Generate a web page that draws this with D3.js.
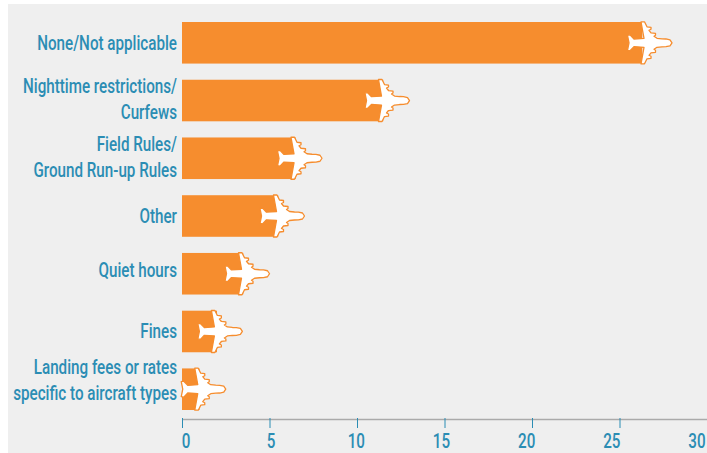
<!DOCTYPE html>
<html>
<head>
<meta charset="utf-8">
<script src="https://cdnjs.cloudflare.com/ajax/libs/d3/7.8.5/d3.min.js"></script>
<style>
  html, body { margin: 0; padding: 0; background: #fff; }
  svg { display: block; }
  text { font-family: Roboto, sans-serif; font-weight: 500; fill: #2b8db4; }
</style>
</head>
<body>
<svg width="707" height="453"></svg>
<script>
  // label lines per category, top to bottom
  const categories = [
    ['None/Not applicable'],
    ['Nighttime restrictions/', 'Curfews'],
    ['Field Rules/', 'Ground Run-up Rules'],
    ['Other'],
    ['Quiet hours'],
    ['Fines'],
    ['Landing fees or rates', 'specific to aircraft types']
  ];
  const values = [26.3, 11.5, 6.5, 5.5, 3.5, 2, 1];
  // where the plane's nose ends up, it sits past the end of the bar
  const noses = [28, 13, 8, 7, 5, 3.45, 2.5];
  const xTicks = [0, 5, 10, 15, 20, 25, 30];
  // labels in the original are not quite centred on their bars
  const labelShift = [0, -2, -1, 0, -4, 0, -9];

  const svg = d3.select('svg');

  svg.append('rect')
    .attr('x', 8).attr('y', 4)
    .attr('width', 699).attr('height', 449)
    .attr('fill', '#efefef');

  const xScale = d3.scaleLinear().domain([0, 30]).range([182, 707]);
  // tick labels in the original drift a bit off the tick marks
  const tickLabelScale = d3.scaleLinear().domain([0, 30]).range([186, 697]);
  const yScale = d3.scaleBand()
    .domain(d3.range(categories.length))
    .range([22, 410])
    .paddingInner(0.28);

  const barH = yScale.bandwidth();
  const squeeze = 0.76; // no condensed font installed, so narrow Roboto by hand

  // axis
  const xAxis = d3.axisBottom(xScale)
    .tickValues(xTicks)
    .tickSize(0)
    .tickFormat('');
  const axisG = svg.append('g')
    .attr('transform', 'translate(0,419)')
    .call(xAxis);
  axisG.select('.domain').attr('stroke', '#aaa').attr('stroke-width', 1.5);
  axisG.selectAll('.tick line')
    .attr('y1', -1).attr('y2', 9)
    .attr('stroke', '#2b8db4').attr('stroke-width', 1);

  svg.selectAll('.tick-label').data(xTicks).enter().append('text')
    .attr('class', 'tick-label')
    .attr('text-anchor', 'middle')
    .attr('font-size', 20)
    .attr('transform', d => `translate(${tickLabelScale(d)},448) scale(${squeeze},1)`)
    .text(d => d);

  // bars
  svg.selectAll('.bar').data(values).enter().append('rect')
    .attr('class', 'bar')
    .attr('x', xScale(0))
    .attr('y', (d, i) => yScale(i))
    .attr('width', d => xScale(d) - xScale(0))
    .attr('height', barH)
    .attr('fill', '#f68d2e');

  // plane, nose at 0,0 and pointing right
  const halfPlane = s => [
    [-2, 3], [-6, 3.8], [-10, 4], [-15, 4.5], [-18, 6.5], [-16.5, 7.5], [-16.5, 9.5], [-21, 10],
    [-23, 12.5], [-21, 13.5], [-21, 15.5], [-25, 16], [-27.5, 21], [-31, 21], [-28, 4.5],
    [-38, 3.8], [-42, 8], [-44.5, 7.5], [-43, 0]
  ].map(p => [p[0], p[1] * s]);
  const planeLine = d3.line();
  const planePath = planeLine([[0, 0]].concat(halfPlane(-1)).concat(halfPlane(1).reverse())) + 'Z';

  svg.selectAll('.plane').data(noses).enter().append('path')
    .attr('class', 'plane')
    .attr('d', planePath)
    .attr('transform', (d, i) => `translate(${xScale(d)},${yScale(i) + barH / 2})`)
    .attr('fill', '#fff')
    .attr('stroke', '#f68d2e')
    .attr('stroke-width', 1.3)
    .attr('stroke-linejoin', 'round');

  // category labels
  const lineH = 26;
  categories.forEach((lines, i) => {
    const cy = yScale(i) + barH / 2 + labelShift[i];
    lines.forEach((line, j) => {
      const y = cy + 7 + (j - (lines.length - 1) / 2) * lineH;
      svg.append('text')
        .attr('class', 'label')
        .attr('text-anchor', 'end')
        .attr('font-size', 20)
        .attr('transform', `translate(177,${y}) scale(${squeeze},1)`)
        .text(line);
    });
  });
</script>
</body>
</html>
